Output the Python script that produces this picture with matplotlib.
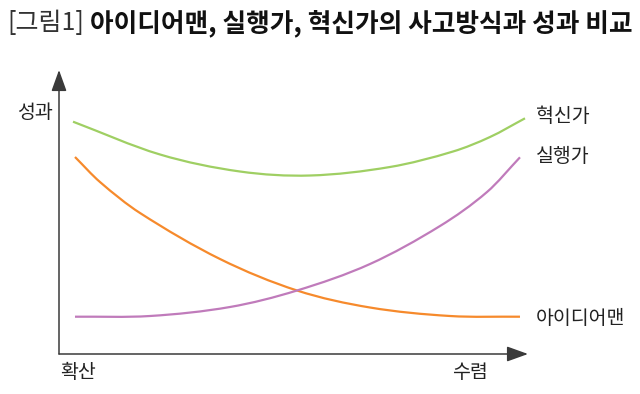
import matplotlib
matplotlib.use("Agg")
import matplotlib.pyplot as plt
from matplotlib.patches import ArrowStyle, PathPatch
from matplotlib.path import Path

plt.rcParams['font.family'] = ['Noto Sans CJK KR', 'DejaVu Sans']

# ---- data (x: 확산 -> 수렴, 0..100 ; y: 성과, 0..100) ----
green_x = [2.99, 21.54, 38.59, 53.52, 70.58, 84.01, 91.90, 99.36]
green_y = [81.80, 70.25, 64.26, 62.85, 65.85, 71.30, 76.41, 82.99]

orange_x = [3.41, 8.74, 17.27, 34.33, 50.75, 66.31, 83.37, 98.29]
orange_y = [69.37, 60.56, 49.65, 33.45, 22.36, 16.37, 13.38, 13.13]

purple_x = [3.41, 19.40, 36.46, 50.75, 66.31, 81.24, 91.26, 98.29]
purple_y = [13.13, 13.38, 16.55, 22.36, 31.69, 45.07, 57.04, 69.26]

series_names = ['혁신가', '실행가', '아이디어맨']
title_tag = '[그림1]'
title_main = '아이디어맨, 실행가, 혁신가의 사고방식과 성과 비교'
y_label = '성과'
x_left_label = '확산'
x_right_label = '수렴'

GREEN = '#9fcf63'
ORANGE = '#f68a2c'
PURPLE = '#c07bbb'
AXIS = '#3a3a3a'

W, H = 640, 394
fig = plt.figure(figsize=(W / 100, H / 100), dpi=100)
fig.patch.set_facecolor('white')

def fx(px):
    return px / W

def fy(py):
    return 1 - py / H

ax = fig.add_axes([fx(59), fy(354), (528 - 59) / W, (354 - 70) / H])
ax.set_xlim(0, 100)
ax.set_ylim(0, 100)
ax.axis('off')


def smooth_path(xs, ys):
    """Smooth curve through the read points as cubic Bezier segments."""
    pts = list(zip(xs, ys))
    n = len(pts)
    tans = []
    for i in range(n):
        a = pts[max(i - 1, 0)]
        b = pts[min(i + 1, n - 1)]
        dx = b[0] - a[0]
        tans.append(((b[1] - a[1]) / dx) if dx else 0.0)
    verts = [pts[0]]
    codes = [Path.MOVETO]
    for i in range(n - 1):
        p1, p2 = pts[i], pts[i + 1]
        h = (p2[0] - p1[0]) / 3
        c1 = (p1[0] + h, p1[1] + tans[i] * h)
        c2 = (p2[0] - h, p2[1] - tans[i + 1] * h)
        verts += [c1, c2, p2]
        codes += [Path.CURVE4] * 3
    return Path(verts, codes)


lw = 1.6
for xs, ys, col in [(green_x, green_y, GREEN),
                    (orange_x, orange_y, ORANGE),
                    (purple_x, purple_y, PURPLE)]:
    ax.add_patch(PathPatch(smooth_path(xs, ys), facecolor='none', edgecolor=col,
                           lw=lw, capstyle='butt'))

astyle = ArrowStyle('-|>', head_length=1.0, head_width=0.36)
ax.annotate('', xy=(0, 1), xytext=(0, 0), xycoords='axes fraction',
            arrowprops=dict(arrowstyle=astyle, mutation_scale=13, color=AXIS,
                            lw=1.1, shrinkA=0, shrinkB=0), annotation_clip=False)
ax.annotate('', xy=(1, 0), xytext=(0, 0), xycoords='axes fraction',
            arrowprops=dict(arrowstyle=astyle, mutation_scale=13, color=AXIS,
                            lw=1.1, shrinkA=0, shrinkB=0), annotation_clip=False)

# ---- text ----
lab_fs = 14
fig.text(fx(35), fy(113), y_label, ha='center', va='center', fontsize=lab_fs, color='#222')
fig.text(fx(78), fy(372), x_left_label, ha='center', va='center', fontsize=lab_fs, color='#222')
fig.text(fx(470), fy(372), x_right_label, ha='center', va='center', fontsize=lab_fs, color='#222')

fig.text(fx(536), fy(117), series_names[0], ha='left', va='center', fontsize=lab_fs, color='#222')
fig.text(fx(536), fy(157), series_names[1], ha='left', va='center', fontsize=lab_fs, color='#222')
fig.text(fx(536), fy(318), series_names[2], ha='left', va='center', fontsize=lab_fs, color='#222')

fig.text(fx(7), fy(23), title_tag, ha='left', va='center', fontsize=18, color='#333', fontweight='normal')
fig.text(fx(633), fy(23), title_main, ha='right', va='center', fontsize=18.5, color='#111', fontweight='bold')

fig.savefig('out.png', dpi=100, facecolor='white')
